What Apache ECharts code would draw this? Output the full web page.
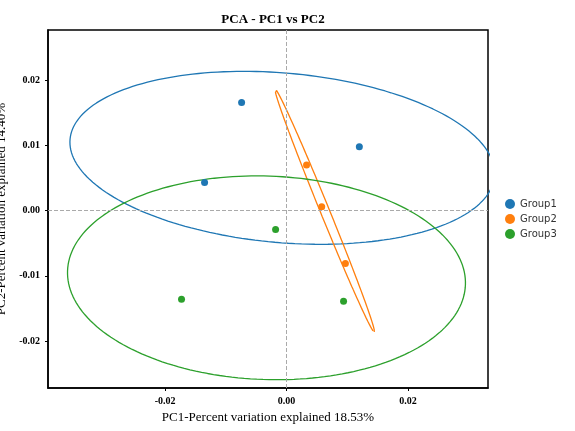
<!DOCTYPE html><html><head><meta charset="utf-8"><script src="https://cdn.jsdelivr.net/npm/echarts@6/dist/echarts.min.js"></script></head><body style="margin:0"><div id="c" style="width:575px;height:431px"></div><script>
const groups=['Group1','Group2','Group3'];
const colors=['#1f77b4','#ff7f0e','#2ca02c'];
const g1=[[-0.0074,0.0166],[0.0120,0.0098],[-0.0135,0.0043]];
const g2=[[0.0033,0.0070],[0.0058,0.0006],[0.0097,-0.0081]];
const g3=[[-0.0018,-0.0029],[-0.0173,-0.0136],[0.0094,-0.0139]];
// ellipse params: center x, center y, semi-axis a (x units), semi-axis b, angle deg (screen)
const ell1=[-0.0007,0.0081,0.0351,0.0130,-5];
const ell2=[0.0063,0.0000,0.0216,0.0007,-67.8];
const ell3=[-0.0033,-0.0103,0.0328,0.0156,-2];
const sx=121.5/0.02, sy=130.5/0.02;
function ellipse(p){const [cx,cy,a,b,ang]=p;const t=ang*Math.PI/180;const out=[];
 const ap=a*sx,bp=b*sy;
 for(let i=0;i<=200;i++){const u=i/200*2*Math.PI;const x=ap*Math.cos(u),y=bp*Math.sin(u);
  const xr=x*Math.cos(t)-y*Math.sin(t), yr=x*Math.sin(t)+y*Math.cos(t);
  out.push([cx+xr/sx, cy+yr/sy]);}return out;}
const pts=[g1,g2,g3], ells=[ell1,ell2,ell3];
const series=[];
groups.forEach((g,i)=>{
 series.push({name:g,type:'scatter',data:pts[i],symbolSize:7,itemStyle:{color:colors[i],opacity:1},z:3,
  markLine:i==0?{silent:true,symbol:'none',label:{show:false},lineStyle:{type:'dashed',color:'#aaa',width:1},data:[{xAxis:0},{yAxis:0}]}:undefined});
 series.push({name:g,type:'line',data:ellipse(ells[i]),showSymbol:false,smooth:false,clip:false,lineStyle:{color:colors[i],width:1.3},itemStyle:{color:colors[i]},z:2});
});
const ch=echarts.init(document.getElementById('c'));
const font='Liberation Serif';
ch.setOption({
 title:{text:'PCA - PC1 vs PC2',left:268,top:8,textAlign:'center',textStyle:{fontFamily:font,fontSize:13,fontWeight:'bold',color:'#000'}},
 legend:{data:groups,orient:'vertical',left:500,top:194,itemWidth:10,itemHeight:10,itemGap:5,icon:'circle',textStyle:{fontFamily:'DejaVu Sans',fontSize:10,color:'#333'}},
 grid:{left:48,right:87,top:30,bottom:43,containLabel:false,outerBoundsMode:'none'},
 xAxis:{type:'value',min:-0.0393,max:0.0332,interval:0.02,
  axisLabel:{fontFamily:font,fontSize:10,color:'#000',fontWeight:'bold',customValues:[-0.02,0,0.02],formatter:v=>v.toFixed(2)},
  axisTick:{customValues:[-0.02,0,0.02],length:3,lineStyle:{color:'#000'}},
  splitLine:{show:false},axisLine:{onZero:false,lineStyle:{color:'#000',width:1.5}},
  name:'PC1-Percent variation explained 18.53%',nameLocation:'middle',nameGap:20,nameTextStyle:{fontFamily:font,fontSize:13,color:'#000'}},
 yAxis:{type:'value',min:-0.0272,max:0.0277,
  axisLabel:{fontFamily:font,fontSize:10,color:'#000',fontWeight:'bold',customValues:[-0.02,-0.01,0,0.01,0.02],formatter:v=>v.toFixed(2)},
  axisTick:{customValues:[-0.02,-0.01,0,0.01,0.02],length:3,lineStyle:{color:'#000'}},
  splitLine:{show:false},axisLine:{onZero:false,lineStyle:{color:'#000',width:1.5}},
  name:'PC2-Percent variation explained 14.40%',nameLocation:'middle',nameGap:34,nameTextStyle:{fontFamily:font,fontSize:13,color:'#000'}},
 series:series
});
ch.setOption({graphic:[{type:'rect',shape:{x:48,y:30,width:440,height:358},style:{fill:'none',stroke:'#000',lineWidth:1.5},silent:true}]});
</script></body></html>
